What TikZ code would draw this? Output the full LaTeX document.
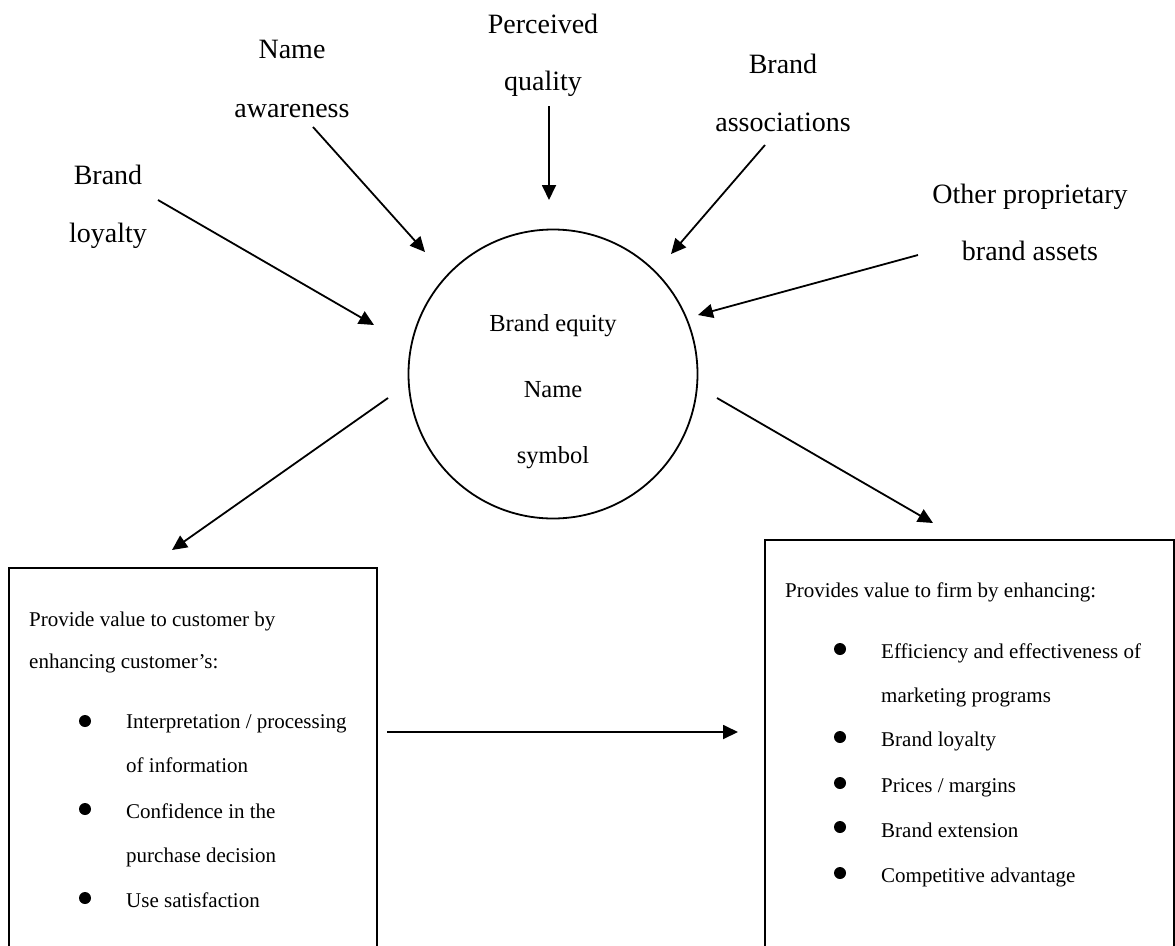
\documentclass[tikz,border=0pt]{standalone}
\usepackage{fontspec}
\setmainfont{Liberation Serif}
\usetikzlibrary{arrows.meta}
\begin{document}
\begin{tikzpicture}[x=1pt,y=-1pt,
  lbl/.style={font=\fontsize{28}{28}\selectfont, anchor=base, inner sep=0pt},
  ctext/.style={font=\fontsize{24.5}{24.5}\selectfont, anchor=base, inner sep=0pt},
  btext/.style={font=\fontsize{21}{21}\selectfont, anchor=base west, inner sep=0pt},
  conn/.style={line width=1.8pt, -{Triangle[length=15pt,width=14pt]}},
  bul/.style={circle, fill=black, inner sep=0pt, minimum size=12pt},
  frame/.style={draw, line width=1.8pt, inner sep=0pt, anchor=north west}]
\clip (0,0) rectangle (1175,945);
\fill[white] (0,0) rectangle (1175,945);

% top labels
\node[lbl] (pq1) at (543,33) {Perceived};
\node[lbl] (pq2) at (543,90) {quality};
\node[lbl] (na1) at (292,58) {Name};
\node[lbl] (na2) at (292,117) {awareness};
\node[lbl] (bl1) at (108,184) {Brand};
\node[lbl] (bl2) at (108,242) {loyalty};
\node[lbl] (ba1) at (783,73) {Brand};
\node[lbl] (ba2) at (783,131) {associations};
\node[lbl] (op1) at (1030,203) {Other proprietary};
\node[lbl] (op2) at (1030,260) {brand assets};

% central circle
\node[draw, circle, line width=1.8pt, minimum size=289pt, inner sep=0pt] (eq) at (553,374) {};
\node[ctext] (eqa) at (553,331) {Brand equity};
\node[ctext] (eqb) at (553,397) {Name};
\node[ctext] (eqc) at (553,463) {symbol};

% connector end points
\coordinate (pqs) at (549,106); \coordinate (pqe) at (549,200);
\coordinate (nas) at (313,127); \coordinate (nae) at (425,252);
\coordinate (bls) at (158,200); \coordinate (ble) at (374,325);
\coordinate (bas) at (765,145); \coordinate (bae) at (671,254);
\coordinate (ops) at (918,255); \coordinate (ope) at (698,315);
\coordinate (cls) at (388,398); \coordinate (cle) at (172,550);
\coordinate (crs) at (717,398); \coordinate (cre) at (933,523);
\coordinate (hs) at (387,732);  \coordinate (he) at (738,732);

\draw[conn] (pqs) -- (pqe);
\draw[conn] (nas) -- (nae);
\draw[conn] (bls) -- (ble);
\draw[conn] (bas) -- (bae);
\draw[conn] (ops) -- (ope);
\draw[conn] (cls) -- (cle);
\draw[conn] (crs) -- (cre);
\draw[conn] (hs) -- (he);

% left box
\node[frame, minimum width=368pt, minimum height=420pt] (cbox) at (8,567) {};
\node[btext] (c1) at (29,626) {Provide value to customer by};
\node[btext] (c2) at (29,668) {enhancing customer’s:};
\node[bul] (cb1) at (85,721) {};
\node[btext] (c3) at (126,728) {Interpretation / processing};
\node[btext] (c4) at (126,772) {of information};
\node[bul] (cb2) at (85,809) {};
\node[btext] (c5) at (126,818) {Confidence in the};
\node[btext] (c6) at (126,862) {purchase decision};
\node[bul] (cb3) at (85,898) {};
\node[btext] (c7) at (126,907) {Use satisfaction};

% right box
\node[frame, minimum width=409pt, minimum height=450pt] (fbox) at (764,539) {};
\node[btext] (f1) at (785,597) {Provides value to firm by enhancing:};
\node[bul] (fb1) at (840,649) {};
\node[btext] (f2) at (881,658) {Efficiency and effectiveness of};
\node[btext] (f3) at (881,702) {marketing programs};
\node[bul] (fb2) at (840,737) {};
\node[btext] (f4) at (881,746) {Brand loyalty};
\node[bul] (fb3) at (840,783) {};
\node[btext] (f5) at (881,792) {Prices / margins};
\node[bul] (fb4) at (840,827) {};
\node[btext] (f6) at (881,837) {Brand extension};
\node[bul] (fb5) at (840,873) {};
\node[btext] (f7) at (881,882) {Competitive advantage};
\end{tikzpicture}
\end{document}
